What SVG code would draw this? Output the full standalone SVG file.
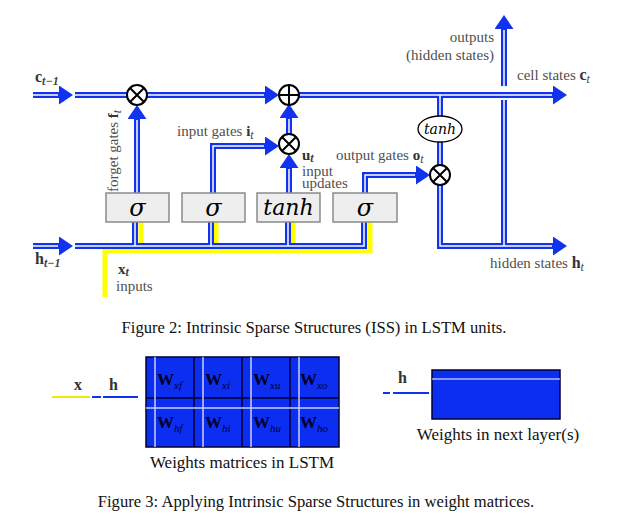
<svg xmlns="http://www.w3.org/2000/svg" width="622" height="527" viewBox="0 0 622 527">
<style>
.wb{stroke:#1133ee;stroke-width:6;fill:none;stroke-linejoin:miter}
.wi{stroke:#ffffff;stroke-width:1.5;fill:none}
.yl{stroke:#ffff00;stroke-width:5;fill:none}
.op{fill:#fff;stroke:#000;stroke-width:2}
.opl{stroke:#000;stroke-width:2}
.box{fill:#eeeeee;stroke:#8a8a8a;stroke-width:1.5}
.bt{font-family:"DejaVu Serif",serif;font-style:italic;fill:#000;text-anchor:middle}
.lbl{font-family:"Liberation Serif",serif;font-size:15px;fill:#505050}
.mb{font-family:"Liberation Serif",serif;font-weight:bold;fill:#333}
.sub{font-family:"Liberation Serif",serif;font-style:italic;font-size:12px;fill:#444}
.cap{font-family:"Liberation Serif",serif;font-size:16.6px;fill:#111;text-anchor:middle}
.scap{font-family:"Liberation Serif",serif;font-size:17px;fill:#111;text-anchor:middle}
.mat{fill:#0b2ef0;stroke:#000033;stroke-width:1.5}
.dk{stroke:#000033;stroke-width:1.5}
.lt{stroke:#c8d0ff;stroke-width:1.5}
.W{font-family:"Liberation Serif",serif;font-weight:bold;font-size:17px;fill:#000022}
.ws{font-family:"Liberation Serif",serif;font-style:italic;font-weight:normal;font-size:11px;fill:#000033}
</style>
<defs>
<marker id="ah" markerUnits="userSpaceOnUse" markerWidth="15" markerHeight="19" refX="0" refY="9.5" orient="auto" viewBox="0 0 15 19">
<path d="M0,0 L14,9.5 L0,19z" fill="#1133ee"/>
</marker>
</defs>

<g id="connectors">
<g id="inputs-yellow">
<path class="yl" d="M105,297 V250.5 H370 V222"/>
<path class="yl" d="M141,250.5 V222 M216,250.5 V222 M293,250.5 V222"/>
</g>
<g id="blue">
<path class="wb" d="M33,95 H59" marker-end="url(#ah)"/>
<path class="wb" d="M75,95 H127"/>
<path class="wb" d="M147,95 H265" marker-end="url(#ah)"/>
<path class="wb" d="M299,95 H553" marker-end="url(#ah)"/>
<path class="wb" d="M33,246 H59" marker-end="url(#ah)"/>
<path class="wb" d="M75,246 H364 V222"/>
<path class="wb" d="M135,246 V222 M211,246 V222 M288,246 V222"/>
<path class="wb" d="M137,193 V119" marker-end="url(#ah)"/>
<path class="wb" d="M213,193 V146 H265" marker-end="url(#ah)"/>
<path class="wb" d="M289,193 V168" marker-end="url(#ah)"/>
<path class="wb" d="M289,134 V118" marker-end="url(#ah)"/>
<path class="wb" d="M365,193 V175 H416" marker-end="url(#ah)"/>
<path class="wb" d="M440,95 V116"/>
<path class="wb" d="M440,142 V165"/>
<path class="wb" d="M440,185 V246 H553" marker-end="url(#ah)"/>
<path class="wb" d="M504,246 V100"/>
<path class="wb" d="M504,86 V29" marker-end="url(#ah)"/>
</g>
<g id="inner">
<path class="wi" d="M33,95 H58 M75,95 H127 M147,95 H264 M299,95 H552"/>
<path class="wi" d="M33,246 H58 M75,246 H364 V222"/>
<path class="wi" d="M135,246 V222 M211,246 V222 M288,246 V222"/>
<path class="wi" d="M137,193 V120 M213,193 V146 H264 M289,193 V169 M289,134 V119"/>
<path class="wi" d="M365,193 V175 H415 M440,95 V116 M440,142 V165 M440,185 V246 H552"/>
<path class="wi" d="M504,246 V100 M504,86 V30"/>
</g>
</g>

<g id="op-forget"><circle class="op" cx="137" cy="95" r="10"/><path class="opl" d="M130,88 L144,102 M144,88 L130,102"/></g>
<g id="op-add"><circle class="op" cx="289" cy="95" r="10"/><path class="opl" d="M279,95 H299 M289,85 V105"/></g>
<g id="op-input"><circle class="op" cx="289" cy="144" r="10"/><path class="opl" d="M282,137 L296,151 M296,137 L282,151"/></g>
<g id="op-output"><circle class="op" cx="440" cy="175" r="10"/><path class="opl" d="M433,168 L447,182 M447,168 L433,182"/></g>
<g id="tanh-cell"><ellipse cx="440" cy="129" rx="22" ry="13" fill="#fff" stroke="#000" stroke-width="1.3"/><text class="bt" x="440" y="134" font-size="14">tanh</text></g>

<g id="box-forget"><rect class="box" x="106" y="193" width="63" height="29"/><text class="bt" x="137.5" y="216" font-size="24">σ</text></g>
<g id="box-input"><rect class="box" x="182" y="193" width="63" height="29"/><text class="bt" x="213.5" y="216" font-size="24">σ</text></g>
<g id="box-update"><rect class="box" x="257" y="193" width="63" height="29"/><text class="bt" x="288.5" y="215" font-size="22">tanh</text></g>
<g id="box-output"><rect class="box" x="333" y="193" width="64" height="29"/><text class="bt" x="365" y="216" font-size="24">σ</text></g>

<g id="labels">
<text class="mb" x="35" y="82" font-size="16">c<tspan class="sub" font-size="13" dy="3">t−1</tspan></text>
<text class="mb" x="35" y="264" font-size="16">h<tspan class="sub" font-size="13" dy="3">t−1</tspan></text>
<text class="mb" x="118" y="274" font-size="15">x<tspan class="sub" dy="2">t</tspan></text>
<text class="lbl" x="116" y="291">inputs</text>
<text class="lbl" transform="translate(118,192) rotate(-90)" font-size="15.5">forget gates <tspan class="mb">f</tspan><tspan class="sub" dy="3">t</tspan></text>
<text class="lbl" x="177" y="136">input gates <tspan class="mb">i</tspan><tspan class="sub" dy="3">t</tspan></text>
<text class="mb" x="302" y="160" font-size="15">u<tspan class="sub" dy="2">t</tspan></text>
<text class="lbl" x="302" y="176" font-size="14">input</text>
<text class="lbl" x="302" y="188" font-size="14">updates</text>
<text class="lbl" x="336" y="160">output gates <tspan class="mb">o</tspan><tspan class="sub" dy="3">t</tspan></text>
<text class="lbl" x="494" y="42" text-anchor="end">outputs</text>
<text class="lbl" x="494" y="60" text-anchor="end">(hidden states)</text>
<text class="lbl" x="517" y="80">cell states <tspan class="mb" font-size="16">c</tspan><tspan class="sub" dy="3">t</tspan></text>
<text class="lbl" x="490" y="268">hidden states  <tspan class="mb" font-size="16">h</tspan><tspan class="sub" dy="3">t</tspan></text>
</g>

<text class="cap" x="314" y="333">Figure 2: Intrinsic Sparse Structures (ISS) in LSTM units.</text>

<g id="lstm-weights">
<rect class="mat" x="146" y="357" width="193" height="90"/>
<path class="dk" d="M194,357 V447 M242,357 V447 M290,357 V447 M146,398 H339"/>
<path class="lt" d="M155,357 V447 M203,357 V447 M251,357 V447 M299,357 V447 M146,408 H339"/>
<text class="W" x="157" y="385">W<tspan class="ws" dy="4">xf</tspan></text>
<text class="W" x="205" y="385">W<tspan class="ws" dy="4">xi</tspan></text>
<text class="W" x="253" y="385">W<tspan class="ws" dy="4">xu</tspan></text>
<text class="W" x="300" y="385">W<tspan class="ws" dy="4">xo</tspan></text>
<text class="W" x="157" y="428">W<tspan class="ws" dy="4">hf</tspan></text>
<text class="W" x="205" y="428">W<tspan class="ws" dy="4">hi</tspan></text>
<text class="W" x="253" y="428">W<tspan class="ws" dy="4">hu</tspan></text>
<text class="W" x="300" y="428">W<tspan class="ws" dy="4">ho</tspan></text>
<text class="mb" x="74" y="390" font-size="16" fill="#000">x</text>
<text class="mb" x="109" y="390" font-size="16" fill="#000">h</text>
<path d="M52,397 H90" stroke="#f2e600" stroke-width="2"/>
<path d="M92,397 H101 M103,397 H138" stroke="#1133ee" stroke-width="2"/>
<text class="scap" x="242" y="468">Weights matrices in LSTM</text>
</g>

<g id="next-weights">
<rect class="mat" x="432" y="370" width="128" height="49"/>
<path d="M432,379 H560" stroke="#fff" stroke-width="1.2"/>
<text class="mb" x="398" y="383" font-size="16" fill="#000">h</text>
<path d="M383,393 H390 M393,393 H429" stroke="#1133ee" stroke-width="2"/>
<text class="scap" x="498" y="440">Weights in next layer(s)</text>
</g>

<text class="cap" x="316" y="507">Figure 3: Applying Intrinsic Sparse Structures in weight matrices.</text>
</svg>
